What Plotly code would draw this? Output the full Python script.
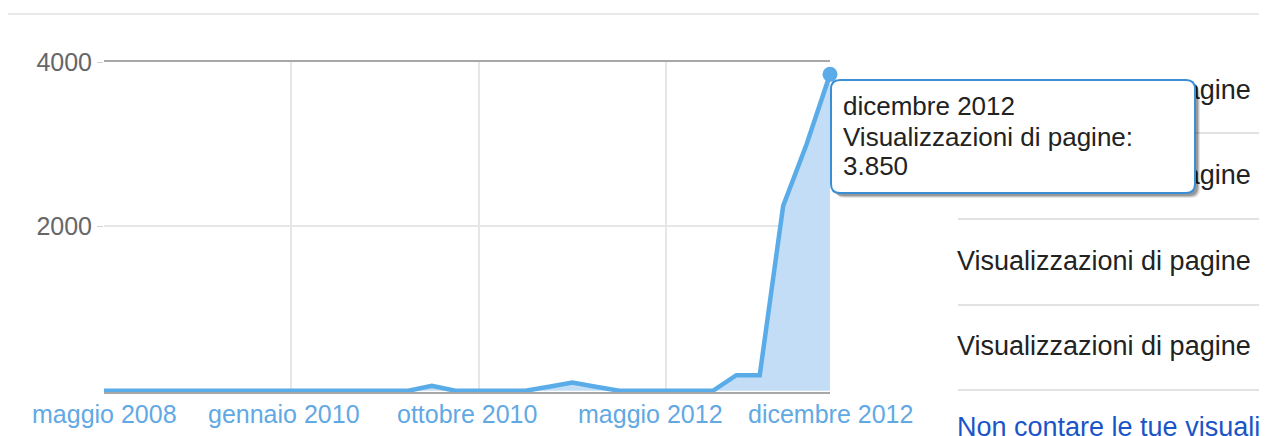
import plotly.graph_objects as go

# page is 1267x436; the HTML body adds an 8px margin, so page pixel X is figure pixel X-8
OFF = 8
W, H = 1267, 436

# ---- data ----
months = [
    "maggio 2008", "giugno 2008", "agosto 2008", "ottobre 2008", "gennaio 2009",
    "aprile 2009", "luglio 2009", "ottobre 2009", "gennaio 2010", "febbraio 2010",
    "marzo 2010", "aprile 2010", "maggio 2010", "giugno 2010", "luglio 2010",
    "agosto 2010", "ottobre 2010", "novembre 2010", "dicembre 2010", "marzo 2011",
    "giugno 2011", "settembre 2011", "dicembre 2011", "marzo 2012", "maggio 2012",
    "giugno 2012", "luglio 2012", "agosto 2012", "settembre 2012", "ottobre 2012",
    "novembre 2012", "dicembre 2012",
]
views = [
    0, 0, 0, 0, 0, 0, 0, 0, 0, 0,
    0, 0, 0, 0, 60, 0, 0, 0, 0, 50,
    100, 50, 0, 0, 0, 0, 0, 190, 190, 2250,
    3000, 3850,
]
tick_months = ["maggio 2008", "gennaio 2010", "ottobre 2010", "maggio 2012", "dicembre 2012"]
tick_label_shift = [0, -7, -12, -16, 0]
y_ticks = [2000, 4000]

tooltip_lines = ["dicembre 2012", "Visualizzazioni di pagine:", "3.850"]

row_texts = ["Visualizzazioni di pagine", "Visualizzazioni di pagine",
             "Visualizzazioni di pagine", "Visualizzazioni di pagine"]
link_text = "Non contare le tue visualizzazioni"

LINE = "#5aace8"
FILL = "#c2ddf5"
FONT = "Liberation Sans, Arial, Helvetica, sans-serif"


def px(X):
    return X - OFF


def py(Y):
    return Y - OFF


# plot area in page pixels
PX0, PX1, PY0, PY1 = 104, 830, 62, 392

fig = go.Figure()

fig.add_trace(go.Scatter(
    x=months, y=views, mode="lines", fill="tozeroy",
    line=dict(color=LINE, width=4.5), fillcolor=FILL,
    hoverinfo="skip", showlegend=False, xaxis="x", yaxis="y",
))
fig.add_trace(go.Scatter(
    x=[months[-1]], y=[views[-1]], mode="markers",
    marker=dict(color=LINE, size=15), cliponaxis=False,
    hoverinfo="skip", showlegend=False, xaxis="x", yaxis="y",
))

# right-hand table (overlay axis in pixel coordinates)
row_y = [92, 177, 263, 348]
fig.add_trace(go.Scatter(
    x=[px(957)] * len(row_texts), y=[py(v) for v in row_y], text=row_texts, mode="text",
    textposition="middle right",
    textfont=dict(family=FONT, size=27, color="#222222"),
    hoverinfo="skip", showlegend=False, xaxis="x2", yaxis="y2", cliponaxis=False,
))
fig.add_trace(go.Scatter(
    x=[px(957)], y=[py(429)], text=[link_text], mode="text",
    textposition="middle right",
    textfont=dict(family=FONT, size=27, color="#1a55c8"),
    hoverinfo="skip", showlegend=False, xaxis="x2", yaxis="y2", cliponaxis=False,
))

shapes = []
# top separator
shapes.append(dict(type="line", xref="x2", yref="y2", x0=px(5), x1=px(1262), y0=py(14), y1=py(14),
                   line=dict(color="#e9e9e9", width=2), layer="below"))
# table separators
for yy in [133, 219, 305, 390]:
    shapes.append(dict(type="line", xref="x2", yref="y2", x0=px(958), x1=px(1267),
                       y0=py(yy), y1=py(yy),
                       line=dict(color="#e2e2e2", width=2), layer="below"))


def rrect(x0, y0, x1, y1, r):
    return (f"M {x0+r},{y0} L {x1-r},{y0} Q {x1},{y0} {x1},{y0+r} "
            f"L {x1},{y1-r} Q {x1},{y1} {x1-r},{y1} L {x0+r},{y1} "
            f"Q {x0},{y1} {x0},{y1-r} L {x0},{y0+r} Q {x0},{y0} {x0+r},{y0} Z")


tx0, ty0, tx1, ty1 = px(831), py(80), px(1195), py(193)
for off, alpha in [(5, 0.10), (4, 0.15), (3, 0.22)]:
    shapes.append(dict(type="path", xref="x2", yref="y2",
                       path=rrect(tx0 + off, ty0 + off, tx1 + off, ty1 + off, 9),
                       fillcolor=f"rgba(0,0,0,{alpha})", line=dict(width=0), layer="above"))
shapes.append(dict(type="path", xref="x2", yref="y2",
                   path=rrect(tx0, ty0, tx1, ty1, 9),
                   fillcolor="white", line=dict(color="#3a8fd4", width=2), layer="above"))

annotations = []
for txt, yy in zip(tooltip_lines, [106, 137, 166]):
    annotations.append(dict(
        xref="x2", yref="y2", x=px(841), y=py(yy), xanchor="left", yanchor="middle",
        text=txt, align="left", showarrow=False,
        font=dict(family=FONT, size=26, color="#222222"),
    ))

# x-axis labels (Google-Charts style, nudged left to avoid collisions)
for m, sh in zip(tick_months, tick_label_shift):
    annotations.append(dict(
        xref="x", yref="y2", x=m, y=py(414), xanchor="center", yanchor="middle",
        xshift=sh, text=m, showarrow=False,
        font=dict(family=FONT, size=25, color="#62a9e4"),
    ))

fig.update_layout(
    width=W, height=H,
    margin=dict(l=0, r=0, t=0, b=0, autoexpand=False),
    paper_bgcolor="white", plot_bgcolor="rgba(0,0,0,0)",
    shapes=shapes, annotations=annotations,
    xaxis=dict(
        domain=[px(PX0) / W, px(PX1) / W], type="category", categoryorder="array",
        categoryarray=months, range=[0, len(months) - 1],
        tickmode="array", tickvals=tick_months, showticklabels=False,
        automargin=False,
        showgrid=True, gridcolor="#e6e6e6", gridwidth=1.5,
        showline=True, linecolor="#a8a8a8", linewidth=1.5, mirror=True,
        ticks="", zeroline=False, fixedrange=True,
    ),
    yaxis=dict(
        domain=[(H - py(PY1)) / H, (H - py(PY0)) / H], range=[-15, 4000],
        tickmode="array", tickvals=y_ticks, automargin=False,
        showgrid=True, gridcolor="#e6e6e6", gridwidth=1.5,
        ticks="outside", ticklen=6, tickcolor="#d0d0d0",
        tickfont=dict(family=FONT, size=25, color="#666666"),
        zeroline=False, showline=False, fixedrange=True,
    ),
    xaxis2=dict(domain=[0, 1], range=[0, W], visible=False, fixedrange=True, automargin=False),
    yaxis2=dict(domain=[0, 1], range=[H, 0], visible=False, fixedrange=True, automargin=False),
)

fig.write_html("out.html", config={"displayModeBar": False})
